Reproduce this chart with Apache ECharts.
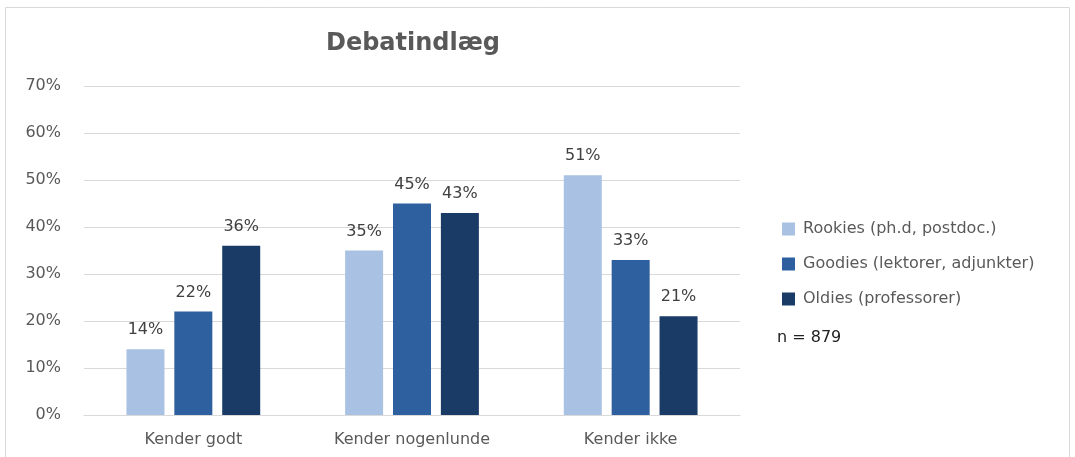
<!DOCTYPE html>
<html>
<head>
<meta charset="utf-8">
<script src="https://cdn.jsdelivr.net/npm/echarts@6/dist/echarts.min.js"></script>
<style>
  html, body { margin: 0; padding: 0; background: #fff; }
  #chart { width: 1075px; height: 457px; }
</style>
</head>
<body>
<div id="chart"></div>
<script>
const categories = ['Kender godt', 'Kender nogenlunde', 'Kender ikke']
const seriesNames = ['Rookies (ph.d, postdoc.)', 'Goodies (lektorer, adjunkter)', 'Oldies (professorer)']
const rookies = [14, 35, 51]
const goodies = [22, 45, 33]
const oldies = [36, 43, 21]
const colors = ['#a9c1e2', '#2e5f9f', '#1a3b66']
const yTicks = [0, 10, 20, 30, 40, 50, 60, 70]

const font = '"DejaVu Sans", "Noto Sans", sans-serif'
const chart = echarts.init(document.getElementById('chart'))

const values = [rookies, goodies, oldies]
const series = seriesNames.map((name, i) => ({
  name: name,
  type: 'bar',
  barWidth: 38,
  barGap: '26%',
  itemStyle: { color: colors[i] },
  label: {
    show: true,
    position: 'top',
    distance: 11,
    formatter: '{c}%',
    color: '#404040',
    fontSize: 16,
    fontFamily: font
  },
  data: values[i]
}))

chart.setOption({
  animation: false,
  title: {
    text: 'Debatindlæg',
    left: 408,
    top: 27,
    textAlign: 'center',
    textStyle: { fontFamily: font, fontSize: 24, fontWeight: 'bold', color: '#595959' }
  },
  legend: {
    orient: 'vertical',
    left: 777,
    top: 216,
    itemWidth: 13,
    itemHeight: 13,
    itemGap: 19,
    icon: 'rect',
    textStyle: { fontFamily: font, fontSize: 16, color: '#595959', padding: [0, 0, 0, 3] },
    data: seriesNames
  },
  graphic: [
    {
      type: 'rect',
      shape: { x: 5.5, y: 7.5, width: 1064, height: 460 },
      style: { fill: 'none', stroke: '#d9d9d9', lineWidth: 1 },
      silent: true
    },
    {
      type: 'text',
      left: 777,
      top: 330,
      style: { text: 'n = 879', font: '16px ' + font, fill: '#222' }
    }
  ],
  grid: { left: 84, right: 335, top: 86, bottom: 42 },
  xAxis: {
    type: 'category',
    data: categories,
    axisTick: { show: false },
    axisLine: { lineStyle: { color: '#d9d9d9', width: 1 } },
    axisLabel: { fontFamily: font, fontSize: 16, color: '#595959', margin: 17 }
  },
  yAxis: {
    type: 'value',
    min: yTicks[0],
    max: yTicks[yTicks.length - 1],
    interval: 10,
    axisLine: { show: false },
    axisTick: { show: false },
    splitLine: { lineStyle: { color: '#d9d9d9', width: 1 } },
    axisLabel: { formatter: '{value}%', fontFamily: font, fontSize: 16, color: '#595959', margin: 23 }
  },
  series: series
})
</script>
</body>
</html>
